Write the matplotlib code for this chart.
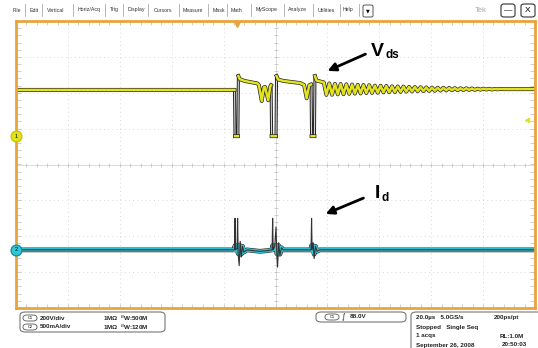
import matplotlib.pyplot as plt
import matplotlib.patches as mpatches
import numpy as np

plt.rcParams['font.family'] = ['Liberation Sans', 'DejaVu Sans']

# scope settings
t_div = 20.0        # us/div
v_div = 200.0       # V/div (C1)
i_div = 0.5         # A/div (C2)

# C1 : Vds (time in us, volts)
vds_t = [-100, -15.8, -15.6, -14.5, -14.3, -13.8, -12.0, -7.0, -6.4, -5.3, -4.5, -4.0, -2.8, -2.0, -1.7,
         -1.5, 0.2, 0.4, 1.0, 3.0, 9.5, 11.0, 12.0, 13.0, 13.7, 13.9, 15.0, 15.2, 15.8, 18.6]
vds_v = [258, 258, 0, 0, 335, 318, 308, 294, 285, 196, 272, 274, 200, 278, 284,
         0, 0, 335, 316, 308, 296, 286, 211, 284, 288, 0, 0, 335, 310, 300]
ring_t = [19.6, 20.7, 21.8, 22.9, 24.0, 25.1, 26.2, 27.3, 28.4, 29.5, 30.6, 31.7, 32.8, 33.9, 35.0,
          36.1, 37.2, 38.3, 39.4, 40.5, 41.6, 42.7, 43.8, 44.9, 46.0, 47.1, 48.2, 49.3, 50.4, 51.5,
          52.6, 53.7, 54.8, 55.9, 57.0, 58.1, 59.2, 60.3, 61.4, 62.5, 63.6, 64.7, 65.8, 66.9, 68.0,
          69.1, 70.2, 71.3, 72.4, 73.5, 74.6, 75.7, 76.8, 77.9, 79.0, 80.1, 81.2, 82.3, 83.4, 84.5,
          85.6, 86.7, 87.8, 88.9, 90.0, 100.0]
ring_v = [230, 294, 231, 292, 233, 291, 234, 289, 236, 288, 237, 286, 238, 285, 240,
          284, 241, 282, 242, 281, 244, 280, 245, 278, 246, 277, 247, 276, 248, 275,
          249, 274, 250, 273, 251, 272, 252, 271, 253, 270, 254, 270, 255, 269, 256,
          268, 256, 267, 257, 267, 258, 266, 258, 265, 259, 265, 260, 264, 260, 263,
          261, 263, 262, 262, 262, 262]

# C2 : Id (time in us, amps)
id_t = [-100, -15.8, -15.6, -15.4, -14.8, -14.6, -14.4, -14.0, -13.6, -13.2, -12.7, -12.2, -11.0,
        -6.0, -3.0, -1.3, -1.1, -0.9, -0.3, 0.2, 0.5, 0.8, 1.2, 1.7, 2.3, 3.0,
        13.7, 13.9, 14.1, 14.5, 14.9, 15.4, 16.0, 17.0, 100]
id_a = [0, 0, 0.44, 0, 0.02, 0.44, -0.05, -0.22, 0.12, -0.10, 0.05, -0.03, 0,
        -0.02, -0.01, 0, 0.44, 0, 0.05, 0.32, -0.05, -0.24, 0.10, -0.08, 0.03, 0,
        0, 0.44, 0, 0.10, -0.12, 0.05, -0.02, 0, 0]

c1_pos = 0.79
c2_pos = -2.38
trig_level = 88.0
trig_t = -14.7

menu = ['File', 'Edit', 'Vertical', 'Horiz/Acq', 'Trig', 'Display', 'Cursors', 'Measure',
        'Mask', 'Math', 'MyScope', 'Analyze', 'Utilities', 'Help']
menu_x = [13, 30, 47, 78, 110, 128, 154, 183, 213, 231, 256, 288, 318, 343]
sep_x = [25, 42, 73, 105, 123, 148, 179, 208, 227, 251, 284, 313, 340, 359]

orange = '#E9A43C'
yellow = '#E2E21E'
cyan = '#33C6D8'

W, H = 538, 348
fig = plt.figure(figsize=(W / 100, H / 100), dpi=100)
fig.patch.set_facecolor('white')

def px(x, y):
    return x / W, 1 - y / H

ax = fig.add_axes([16 / W, 1 - 308 / H, 519 / W, 287 / H])
ax.set_xlim(-5, 5)
ax.set_ylim(-4, 4)
ax.set_xticks([])
ax.set_yticks([])
for s in ax.spines.values():
    s.set_color(orange)
    s.set_linewidth(2)

# graticule
for g in range(-4, 5):
    if g != 0:
        ax.axvline(g, color='#cccccc', lw=0.6, ls=(0, (1, 4)))
for g in range(-3, 4):
    if g != 0:
        ax.axhline(g, color='#cccccc', lw=0.6, ls=(0, (1, 4)))
ax.axvline(0, color='#d6d6d6', lw=0.6)
ax.axhline(0, color='#d6d6d6', lw=0.6)
mt = np.arange(-5, 5.01, 0.2)
ax.plot(mt, np.zeros_like(mt), '|', color='#bbbbbb', ms=3, mew=0.5)
ax.plot(mt, np.full_like(mt, 3.97), '|', color='#bbbbbb', ms=4, mew=0.5)
ax.plot(mt, np.full_like(mt, -3.97), '|', color='#bbbbbb', ms=4, mew=0.5)
mv = np.arange(-4, 4.01, 0.2)
ax.plot(np.zeros_like(mv), mv, '_', color='#bbbbbb', ms=3, mew=0.5)
ax.plot(np.full_like(mv, -4.97), mv, '_', color='#bbbbbb', ms=4, mew=0.5)
ax.plot(np.full_like(mv, 4.97), mv, '_', color='#bbbbbb', ms=4, mew=0.5)

# Vds trace: fast edges thin and grey, the rest a yellow band
t1 = np.array(vds_t + ring_t) / t_div
y1 = np.array(vds_v + ring_v) / v_div + c1_pos
steep = np.abs(np.diff(y1)) / np.diff(t1) > 50
ty, yy, te, ye = [t1[0]], [y1[0]], [], []
for i in range(len(steep)):
    if steep[i]:
        ty.append(np.nan); yy.append(np.nan)
        te += [t1[i], t1[i + 1], np.nan]; ye += [y1[i], y1[i + 1], np.nan]
    ty.append(t1[i + 1]); yy.append(y1[i + 1])
ax.plot(te, ye, color='#222222', lw=2.2)
ax.plot(te, ye, color='#d4d4d4', lw=0.8)
ax.plot(ty, yy, color='#222222', lw=2.8, solid_joinstyle='round')
ax.plot(ty, yy, color=yellow, lw=1.8, solid_joinstyle='round')

# Id trace: cyan band at baseline, spikes drawn thin
t2 = np.array(id_t) / t_div
y2 = np.array(id_a) / i_div + c2_pos
band = np.clip(np.array(id_a), -0.06, 0.06) / i_div + c2_pos
ax.plot(t2, band, color='#222222', lw=3.4)
ax.plot(t2, band, color=cyan, lw=2.6)
ax.plot(t2, y2, color='#333333', lw=0.8)

# channel / trigger markers
ax.scatter([-5], [c1_pos], s=60, color=yellow, edgecolor='#c8c800', zorder=5, clip_on=False)
ax.text(-5, c1_pos, '1', fontsize=4, ha='center', va='center', zorder=6)
ax.scatter([-5], [c2_pos], s=60, color=cyan, edgecolor='#1a8fa0', zorder=5, clip_on=False)
ax.text(-5, c2_pos, '2', fontsize=4, ha='center', va='center', zorder=6)
ax.plot([4.85], [trig_level / v_div + c1_pos], marker='<', color=yellow, ms=3, clip_on=False)
ax.plot([trig_t / t_div], [3.93], marker='v', color=orange, ms=4, clip_on=False)

# annotations
ax.annotate('', xy=px(325, 72), xycoords='figure fraction', xytext=px(368, 53),
            textcoords='figure fraction',
            arrowprops=dict(arrowstyle='-|>', color='black', lw=2, mutation_scale=12))
fig.text(*px(371, 51), 'V', fontsize=14, fontweight='bold', va='center')
fig.text(*px(386, 55), 'ds', fontsize=8.5, fontweight='bold', va='center')
ax.annotate('', xy=px(323, 215), xycoords='figure fraction', xytext=px(366, 197),
            textcoords='figure fraction',
            arrowprops=dict(arrowstyle='-|>', color='black', lw=2, mutation_scale=12))
fig.text(*px(375, 193), 'I', fontsize=14, fontweight='bold', va='center')
fig.text(*px(381, 198), 'd', fontsize=8.5, fontweight='bold', va='center')

# menu bar
for name, x in zip(menu, menu_x):
    fig.text(*px(x, 10), name, fontsize=3.8, va='center', color='#333333')
for x in sep_x:
    fig.add_artist(plt.Line2D([x / W, x / W], [1 - 4 / H, 1 - 16 / H], color='#999999', lw=0.5))
fig.patches.append(mpatches.FancyBboxPatch(px(363, 17), 10 / W, 12 / H, boxstyle='round,pad=0,rounding_size=0.004',
                                           transform=fig.transFigure, fc='white', ec='#555555', lw=0.7))
fig.text(*px(368, 11), '▼', family='DejaVu Sans', fontsize=3.5, ha='center', va='center')
fig.text(*px(475, 10), 'Tek', fontsize=5.5, color='#aaaaaa', va='center')
for bx, lab in [(501, '—'), (521, 'X')]:
    fig.patches.append(mpatches.FancyBboxPatch(px(bx, 17), 14 / W, 13 / H, boxstyle='round,pad=0,rounding_size=0.006',
                                               transform=fig.transFigure, fc='white', ec='#333333', lw=0.8))
    fig.text(*px(bx + 7, 10.5), lab, fontsize=6, ha='center', va='center')

# readout panels
def panel(x0, y0, x1, y1):
    fig.patches.append(mpatches.FancyBboxPatch(px(x0, y1), (x1 - x0) / W, (y1 - y0) / H,
                                               boxstyle='round,pad=0,rounding_size=0.01',
                                               transform=fig.transFigure, fc='white', ec='#777777', lw=0.8))

def chip(x, y, lab):
    fig.patches.append(mpatches.FancyBboxPatch(px(x, y + 3), 14 / W, 6 / H, boxstyle='round,pad=0,rounding_size=0.008',
                                               transform=fig.transFigure, fc='white', ec='#555555', lw=0.6))
    fig.text(*px(x + 7, y), lab, fontsize=2.8, ha='center', va='center')

kw = dict(fontsize=4.5, fontweight='bold', va='center', color='#222222')
panel(20, 312, 165, 332)
chip(23, 318, 'C1')
fig.text(*px(40, 318), '200V/div', **kw)
fig.text(*px(103, 318), '1MΩ  $^{B}$W:500M', **kw)
chip(23, 327, 'C2')
fig.text(*px(40, 327), '500mA/div', **kw)
fig.text(*px(103, 327), '1MΩ  $^{B}$W:120M', **kw)

panel(316, 312, 406, 322)
chip(325, 317, 'C1')
fig.text(*px(342, 317), '∫', family='DejaVu Sans', fontsize=5, va='center')
fig.text(*px(350, 317), '88.0V', **kw)

panel(411, 312, 545, 352)
fig.text(*px(416, 318), '20.0µs   5.0GS/s', **kw)
fig.text(*px(494, 318), '200ps/pt', **kw)
fig.text(*px(416, 327), 'Stopped   Single Seq', **kw)
fig.text(*px(416, 336), '1 acqs', **kw)
fig.text(*px(500, 336), 'RL:1.0M', **kw)
fig.text(*px(416, 345), 'September 26, 2008', **kw)
fig.text(*px(502, 345), '20:50:03', **kw)

fig.savefig('out.png', dpi=100)
